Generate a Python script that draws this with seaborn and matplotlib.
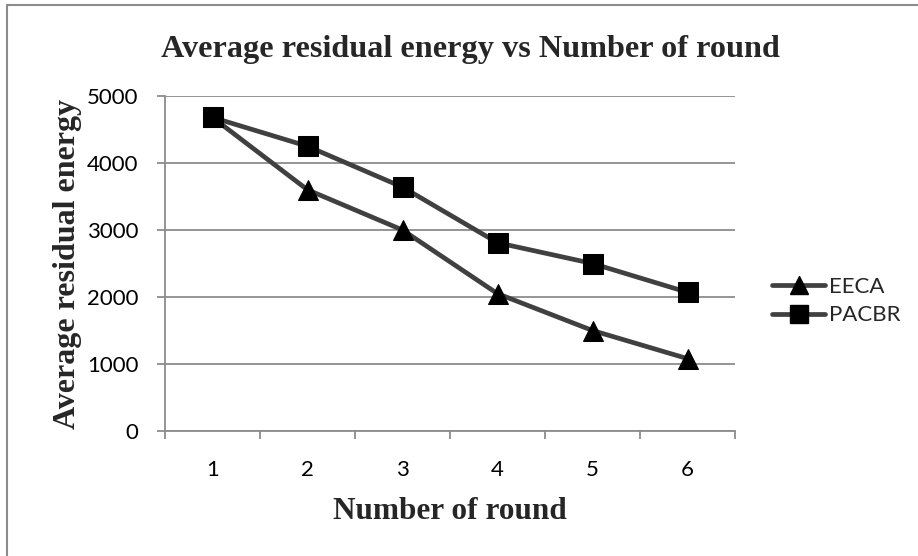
import pandas as pd
import matplotlib.pyplot as plt
import seaborn as sns
from matplotlib.lines import Line2D

# Data
rounds = [1, 2, 3, 4, 5, 6]
eeca = [4680, 3600, 3000, 2050, 1500, 1080]
pacbr = [4680, 4250, 3640, 2810, 2500, 2070]
y_ticks = [0, 1000, 2000, 3000, 4000, 5000]

df = pd.DataFrame({
    "round": rounds * 2,
    "energy": eeca + pacbr,
    "method": ["EECA"] * len(rounds) + ["PACBR"] * len(rounds),
})

sns.set_style("white")
plt.rcParams['font.family'] = ['Lato', 'DejaVu Sans']

fig = plt.figure(figsize=(9.18, 5.56), dpi=100)
ax = fig.add_axes([165 / 918, 1 - 431 / 556, 570 / 918, 335 / 556])

line_col = "#404040"
grid_col = "#8c8c8c"
lw = 3.4
ms = 14.5
sns.lineplot(data=df, x="round", y="energy", hue="method", style="method",
             markers={"EECA": "^", "PACBR": "s"}, dashes=False,
             palette={"EECA": line_col, "PACBR": line_col},
             linewidth=lw, markersize=ms, legend=False, ax=ax, zorder=3)
for ln in ax.lines:
    ln.set_markerfacecolor("black")
    ln.set_markeredgecolor("black")

ax.set_xlim(0.5, 6.5)
ax.set_ylim(0, 5000)
ax.set_yticks(y_ticks)
ax.set_xticks(rounds)
ax.set_xticks([r - 0.5 for r in rounds] + [6.5], minor=True)
ax.yaxis.grid(True, color=grid_col, linewidth=1.3)
ax.set_axisbelow(True)
for s in ["top", "right"]:
    ax.spines[s].set_visible(False)
for s in ["left", "bottom"]:
    ax.spines[s].set_color(grid_col)
    ax.spines[s].set_linewidth(1.3)
ax.tick_params(axis="y", which="major", left=True, length=6, width=1.3,
               color=grid_col, labelsize=16, pad=13, labelcolor="black")
ax.tick_params(axis="x", which="major", bottom=False, length=0, labelsize=16,
               pad=21, labelcolor="black")
ax.tick_params(axis="x", which="minor", bottom=True, length=6, width=1.3,
               color=grid_col)

serif = {"family": "Liberation Serif", "weight": "bold"}
ax.set_xlabel("Number of round", fontdict=serif, fontsize=22.5, labelpad=12)
ax.set_ylabel("Average residual energy", fontdict=serif, fontsize=23, labelpad=4)
fig.text(470 / 918, 1 - 50 / 556, "Average residual energy vs Number of round",
         ha="center", va="center", fontdict=serif, fontsize=23.2)

handles = [Line2D([], [], color=line_col, lw=lw, marker=m, markersize=ms - 1,
                  markerfacecolor="black", markeredgecolor="black")
           for m in ["^", "s"]]
fig.legend(handles, ["EECA", "PACBR"], loc="center left",
           bbox_to_anchor=(772 / 918, 1 - 301 / 556), frameon=False,
           fontsize=16, handlelength=2.4, handletextpad=0.15, labelspacing=0.4,
           borderpad=0, borderaxespad=0)

# chart border
fig.add_artist(Line2D([7 / 918, 7 / 918], [0, 1 - 5 / 556], color=grid_col, lw=1.5))
fig.add_artist(Line2D([7 / 918, 1], [1 - 5 / 556, 1 - 5 / 556], color=grid_col, lw=1.5))

fig.savefig("out.png", dpi=100)
